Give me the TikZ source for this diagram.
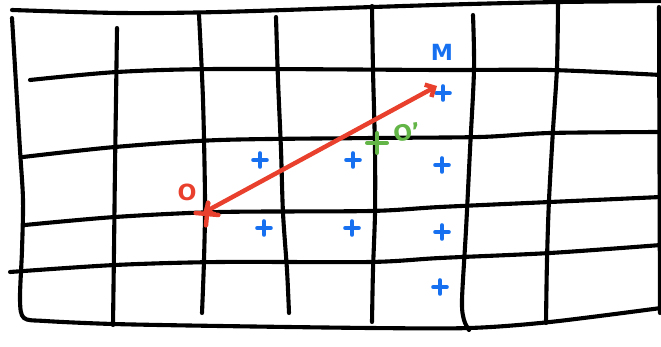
\documentclass[tikz,border=0pt]{standalone}
\usepackage{fontspec}
\setsansfont{DejaVu Sans}
\usepackage{tikz}
\usetikzlibrary{arrows.meta, shapes.misc}
\definecolor{penRed}{HTML}{E8402C}
\definecolor{penBlue}{HTML}{1670F0}
\definecolor{penGreen}{HTML}{62B546}
\tikzset{
    grid_line/.style={
        draw=black, line width=3.5pt, line cap=round, line join=round
    },
    mark_blue/.style={
        cross out, draw=penBlue, line width=3.6pt, line cap=round,
        rotate=45, minimum size=4.5pt, inner sep=0pt
    },
    mark_green/.style={
        cross out, draw=penGreen, line width=3.8pt, line cap=round,
        rotate=45, minimum size=8pt, inner sep=0pt
    },
    mark_red/.style={
        cross out, draw=penRed, line width=3.8pt, line cap=round,
        rotate=40, minimum size=10pt, inner sep=0pt
    },
    pen_arrow/.style={
        {Straight Barb[length=6pt, width=12pt]}-{Straight Barb[length=6pt, width=12pt]},
        draw=penRed, line width=3.8pt, line cap=round, line join=round
    },
    lbl/.style={
        font=\sffamily\bfseries\fontsize{19}{20}\selectfont, inner sep=0pt
    }
}

\begin{document}
\begin{tikzpicture}[x=0.03cm, y=-0.03cm]
    \useasboundingbox (0,0) rectangle (661,347);

    % Horizontal Lines (top to bottom)
    \draw[grid_line] plot[smooth] coordinates {(12,10) (120,13) (220,12) (373,7) (470,4) (560,2) (661,1)};
    \draw[grid_line] plot[smooth] coordinates {(30,80) (117,72) (220,69) (440,70) (550,70) (661,75)};
    \draw[grid_line] plot[smooth] coordinates {(23,157) (115,147) (220,140) (373,138) (480,137) (550,133) (661,132)};
    \draw[grid_line] plot[smooth] coordinates {(25,225) (115,217) (220,212) (370,211) (440,207) (550,202) (661,197)};
    \draw[grid_line] plot[smooth] coordinates {(10,272) (115,265) (220,262) (370,262) (440,258) (550,253) (661,245)};

    % Left Border & Bottom Line (one stroke)
    \draw[grid_line] plot[smooth] coordinates {(12,18) (15,67) (20,150) (23,200) (22,250) (20,300) (24,318) (45,321) (113,324) (220,326) (370,328) (470,328) (550,322) (661,308)};

    % Vertical Lines (left to right)
    \draw[grid_line] plot[smooth] coordinates {(117,28) (116,100) (115,167) (114,250) (113,325)};
    \draw[grid_line] plot[smooth] coordinates {(199,15) (203,100) (205,200) (204,260) (202,313)};
    \draw[grid_line] plot[smooth] coordinates {(276,17) (278,80) (281,150) (283,213) (287,270) (289,313)};
    \draw[grid_line] plot[smooth] coordinates {(372,6) (373,70) (375,150) (375,213) (373,270) (372,322)};
    \draw[grid_line] plot[smooth] coordinates {(473,15) (474,70) (470,150) (466,230) (462,300) (464,320) (469,330)};
    \draw[grid_line] plot[smooth] coordinates {(558,2) (557,67) (553,130) (549,200) (547,260) (546,323)};
    \draw[grid_line] (659,7) -- (660,313);

    % Blue Cell Marks
    \node[mark_blue] (c_top) at (443,93) {};
    \node[mark_blue] (c_a1) at (260,160) {};
    \node[mark_blue] (c_a2) at (353,160) {};
    \node[mark_blue] (c_a3) at (442,165) {};
    \node[mark_blue] (c_b1) at (264,228) {};
    \node[mark_blue] (c_b2) at (352,228) {};
    \node[mark_blue] (c_b3) at (442,232) {};
    \node[mark_blue] (c_c3) at (440,287) {};
    \node[lbl, text=penBlue] (m_lbl) at (442,52) {M};

    % Red Points O & M (double arrow)
    \node[mark_red] (o) at (207,214) {};
    \coordinate (o_tip) at (203,213);
    \coordinate (m_tip) at (437,86);
    \draw[pen_arrow] (o_tip) -- (m_tip);
    \node[lbl, text=penRed] (o_lbl) at (187,192) {O};

    % Green Point O'
    \node[mark_green] (op) at (377,143) {};
    \node[lbl, text=penGreen, rotate=10] (op_lbl) at (407,132) {O'};
\end{tikzpicture}
\end{document}
